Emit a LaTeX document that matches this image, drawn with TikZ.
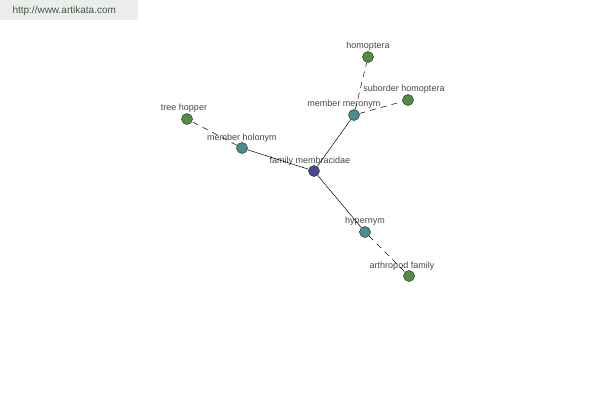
\documentclass[tikz,border=0pt]{standalone}
\usepackage{fontspec}
\setmainfont{Liberation Sans}
\usepackage{xcolor}
\definecolor{hub_blue}{RGB}{72,72,150}
\definecolor{rel_teal}{RGB}{72,142,142}
\definecolor{leaf_green}{RGB}{82,140,66}
\definecolor{label_gray}{RGB}{70,70,70}
\definecolor{mark_bg}{RGB}{236,236,236}
\definecolor{mark_text}{RGB}{62,92,62}
\usetikzlibrary{positioning}
\tikzstyle{dot} = [circle, draw=black!80, line width=0.5pt, minimum size=11pt, inner sep=0pt]
\tikzstyle{word} = [text=label_gray, font=\fontsize{9}{10}\selectfont, inner sep=0pt]
\tikzstyle{solidlink} = [black, line width=0.5pt]
\tikzstyle{dashlink} = [black, line width=0.5pt, dash pattern=on 6pt off 5pt]

\begin{document}
\begin{tikzpicture}[x=1pt, y=-1pt]

    \useasboundingbox (0,0) rectangle (600,400);

    % watermark
    \fill[mark_bg] (0,0) rectangle (138,20);
    \node[text=mark_text, font=\fontsize{10}{12}\selectfont, anchor=west] (site) at (9,11) {http://www.artikata.com};

    % nodes
    \node[dot, fill=hub_blue] (fam) at (314,171) {};
    \node[dot, fill=rel_teal] (holonym) at (242,148) {};
    \node[dot, fill=rel_teal] (meronym) at (354,115) {};
    \node[dot, fill=rel_teal] (hypernym) at (365,232) {};
    \node[dot, fill=leaf_green] (treehopper) at (187,119) {};
    \node[dot, fill=leaf_green] (homoptera) at (368,57) {};
    \node[dot, fill=leaf_green] (suborder) at (408,100) {};
    \node[dot, fill=leaf_green] (arthropod) at (409,276) {};

    % labels
    \node[word] (famtext) at (310,161.5) {family membracidae};
    \node[word] (holonymtext) at (242,138.5) {member holonym};
    \node[word] (meronymtext) at (344,104.5) {member meronym};
    \node[word] (hypernymtext) at (365,221.5) {hypernym};
    \node[word] (treehoppertext) at (184,108.5) {tree hopper};
    \node[word] (homopteratext) at (368,46.5) {homoptera};
    \node[word] (subordertext) at (404,89.5) {suborder homoptera};
    \node[word] (arthropodtext) at (402,266.5) {arthropod family};

    % links
    \draw[solidlink] (fam) to (holonym);
    \draw[solidlink] (fam) to (meronym);
    \draw[solidlink] (fam) to (hypernym);
    \draw[dashlink] (holonym) to (treehopper);
    \draw[dashlink] (meronym) to (homoptera);
    \draw[dashlink] (meronym) to (suborder);
    \draw[dashlink] (hypernym) to (arthropod);

\end{tikzpicture}
\end{document}
